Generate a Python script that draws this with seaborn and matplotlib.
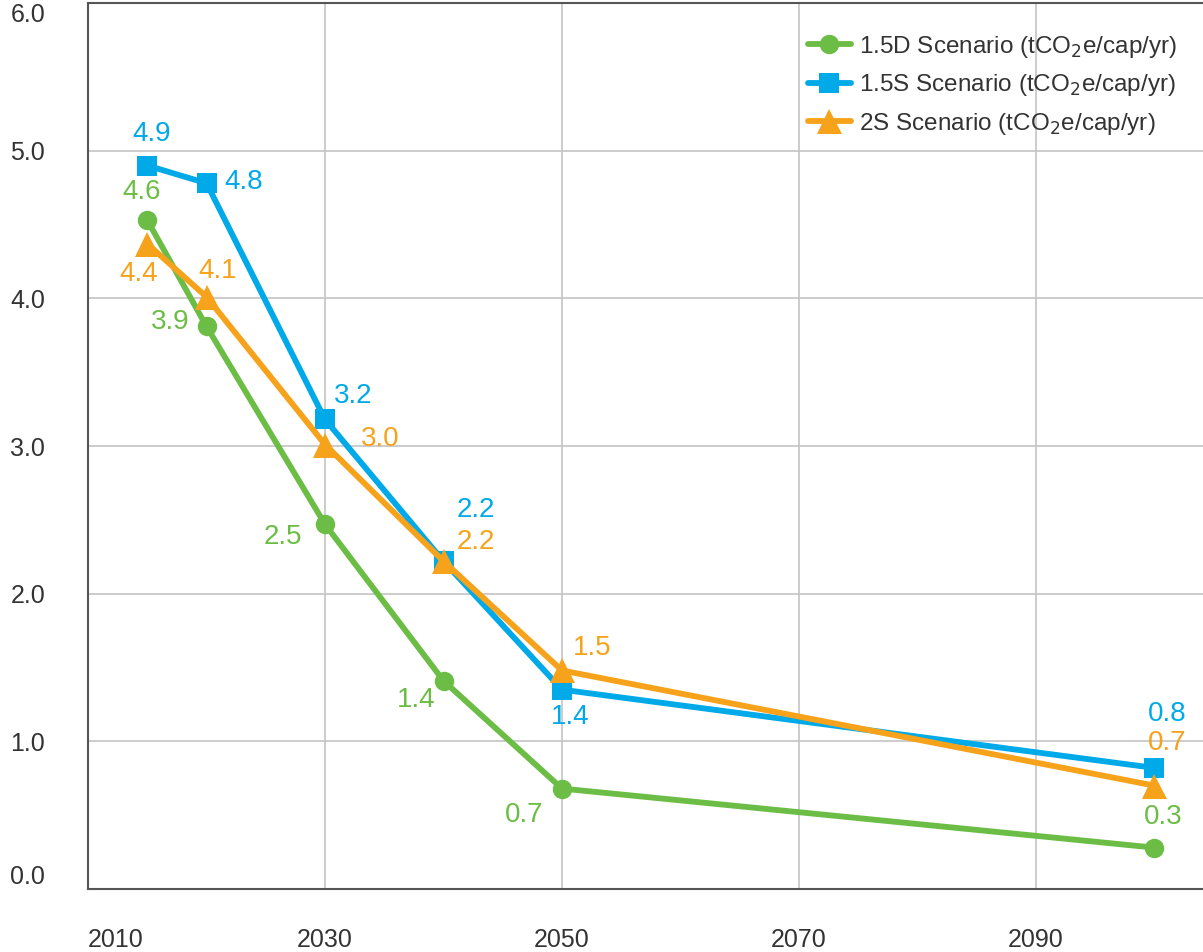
import numpy as np
import pandas as pd
import matplotlib
matplotlib.use("Agg")
import matplotlib.pyplot as plt
import seaborn as sns

# Dane
years = [2015, 2020, 2030, 2040, 2050, 2100]

green_vals = [4.53, 3.81, 2.47, 1.41, 0.68, 0.28]
blue_vals = [4.90, 4.78, 3.18, 2.22, 1.35, 0.82]
orange_vals = [4.37, 4.01, 3.01, 2.22, 1.48, 0.70]

green_labels = ["4.6", "3.9", "2.5", "1.4", "0.7", "0.3"]
blue_labels = ["4.9", "4.8", "3.2", "2.2", "1.4", "0.8"]
orange_labels = ["4.4", "4.1", "3.0", "2.2", "1.5", "0.7"]

series_names = [
    r"1.5D Scenario (tCO$_2$e/cap/yr)",
    r"1.5S Scenario (tCO$_2$e/cap/yr)",
    r"2S Scenario (tCO$_2$e/cap/yr)",
]

x_ticks = [2010, 2030, 2050, 2070, 2090]
y_ticks = [0, 1, 2, 3, 4, 5, 6]

# Tabela w formacie long
df = pd.DataFrame({
    "rok": years * 3,
    "wartosc": green_vals + blue_vals + orange_vals,
    "scenariusz": [series_names[0]] * 6 + [series_names[1]] * 6 + [series_names[2]] * 6,
    "etykieta": green_labels + blue_labels + orange_labels,
})

# Style serii
styles = {
    series_names[0]: {"color": "#6cbd45", "marker": "o", "ms": 14},
    series_names[1]: {"color": "#00a9e8", "marker": "s", "ms": 14},
    series_names[2]: {"color": "#f7a21b", "marker": "^", "ms": 18},
}

# Przesunięcia etykiet (w punktach)
offsets = {
    series_names[0]: [(-4, 20), (-26, 3), (-30, -9), (-20, -14), (-27, -19), (6, 22)],
    series_names[1]: [(3, 23), (27, 1), (20, 17), (23, 37), (6, -20), (9, 39)],
    series_names[2]: [(-6, -22), (8, 19), (40, 4), (23, 14), (22, 16), (9, 31)],
}

sns.set_style("white")
plt.rcParams["font.family"] = ["Liberation Sans", "DejaVu Sans"]

fig = plt.figure(figsize=(12.03, 9.52), dpi=100)
ax = fig.add_axes([0.0732, 0.0662, 0.9268, 0.9305])

for name in series_names:
    st = styles[name]
    sub = df[df["scenariusz"] == name]
    sns.lineplot(data=sub, x="rok", y="wartosc", ax=ax, color=st["color"],
                 marker=st["marker"], markersize=st["ms"], markeredgewidth=0,
                 linewidth=4.2, label=name)
    for (xv, yv, txt), off in zip(sub[["rok", "wartosc", "etykieta"]].values, offsets[name]):
        ax.annotate(txt, (xv, yv), xytext=off, textcoords="offset points",
                    ha="center", va="center", fontsize=20, color=st["color"])

ax.set_xlim(2010, 2104.1)
ax.set_ylim(0, 5.97)
ax.set_xticks(x_ticks)
ax.set_yticks(y_ticks)
ax.set_yticklabels([f"{v:.1f}" for v in y_ticks])
ax.set_xlabel("")
ax.set_ylabel("")

ax.grid(True, color="#c4c4c4", linewidth=1.2)
ax.set_axisbelow(True)
ax.tick_params(axis="both", length=0, labelsize=18, labelcolor="#333333")
ax.tick_params(axis="x", pad=28)
ax.tick_params(axis="y", pad=31)
ax.get_xticklabels()[0].set_horizontalalignment("left")
# skrajne etykiety osi Y jak w oryginale
ax.get_yticklabels()[0].set_verticalalignment("bottom")
ax.get_yticklabels()[-1].set_verticalalignment("top")

for side in ["left", "bottom", "top"]:
    ax.spines[side].set_color("#555555")
    ax.spines[side].set_linewidth(1.5)
ax.spines["right"].set_visible(False)

leg = ax.legend(loc="upper left", bbox_to_anchor=(0.6717, 0.9647),
                bbox_transform=fig.transFigure, frameon=False, fontsize=17.5,
                borderpad=0, borderaxespad=0, handlelength=1.75,
                handletextpad=0.33, labelspacing=0.52)
for t in leg.get_texts():
    t.set_color("#333333")

fig.savefig("out.png", dpi=100)
